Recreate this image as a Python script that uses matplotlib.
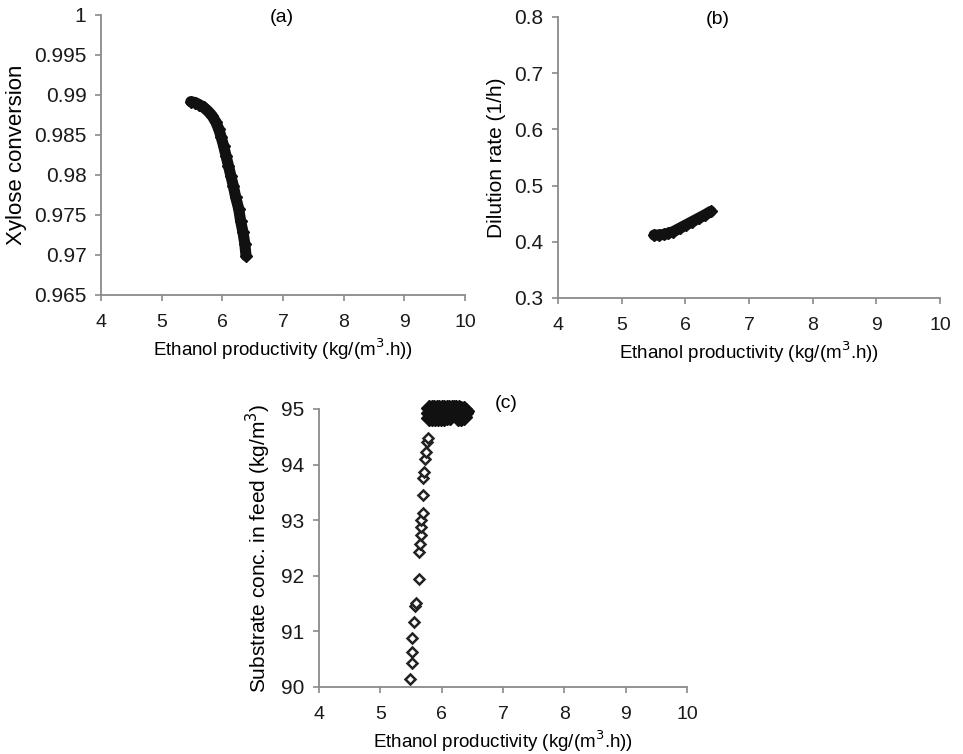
import matplotlib.pyplot as plt

plt.rcParams['font.family'] = ['Liberation Sans', 'DejaVu Sans']

# (a) ethanol productivity vs xylose conversion
prod_a = [5.48, 5.55, 5.62, 5.69, 5.76, 5.83, 5.89, 5.94, 5.98, 6.02, 6.06,
          6.10, 6.14, 6.18, 6.22, 6.27, 6.30, 6.34, 6.37, 6.39]
conv_a = [0.98916, 0.98905, 0.98878, 0.98846, 0.98800, 0.98741, 0.98665,
          0.98575, 0.98475, 0.98366, 0.98240, 0.98116, 0.97990, 0.97866,
          0.97720, 0.97575, 0.97430, 0.97284, 0.97140, 0.96991]

# (b) ethanol productivity vs dilution rate
prod_b = [5.51, 5.58, 5.66, 5.73, 5.81, 5.91, 6.01, 6.11, 6.21, 6.31, 6.40]
dil_b = [0.412, 0.412, 0.413, 0.415, 0.418, 0.424, 0.430, 0.436, 0.442,
         0.448, 0.454]

# (c) ethanol productivity vs substrate concentration in feed
prod_c_open = [5.48, 5.51, 5.52, 5.52, 5.55, 5.56, 5.58, 5.63, 5.63, 5.65,
               5.66, 5.67, 5.67, 5.69, 5.70, 5.70, 5.71, 5.72, 5.74, 5.76,
               5.77]
feed_c_open = [90.14, 90.43, 90.62, 90.88, 91.17, 91.46, 91.51, 91.95,
               92.43, 92.58, 92.73, 92.88, 93.00, 93.13, 93.45, 93.75,
               93.87, 94.10, 94.23, 94.41, 94.47]
prod_c_fill = [5.80, 5.84, 5.88, 5.92, 5.96, 6.00, 6.04, 6.08, 6.12, 6.16,
               6.20, 6.24, 6.28, 6.32, 6.36, 6.40,
               5.79, 5.82, 5.86, 5.90, 5.94, 5.98, 6.02, 6.06, 6.10, 6.14,
               6.18, 6.22, 6.26, 6.30, 6.34, 6.38,
               5.79, 5.84, 5.89, 5.94, 5.99, 6.04, 6.09, 6.14, 6.27, 6.32,
               6.36]
feed_c_fill = [95.01, 95.02, 95.01, 95.02, 95.01, 95.02, 95.01, 95.02,
               95.01, 95.02, 95.01, 95.02, 95.01, 95.00, 95.00, 94.97,
               94.93, 94.92, 94.93, 94.92, 94.93, 94.92, 94.93, 94.92,
               94.93, 94.92, 94.92, 94.91, 94.90, 94.91, 94.92, 94.93,
               94.84, 94.83, 94.84, 94.83, 94.84, 94.84, 94.85, 94.86,
               94.84, 94.83, 94.85]

xticks = [4, 5, 6, 7, 8, 9, 10]
xlab = 'Ethanol productivity (kg/(m$^3$.h))'
spine_col = '#8a8a8a'
ink = '#111111'


def style(ax):
    for s in ['top', 'right']:
        ax.spines[s].set_visible(False)
    for s in ['left', 'bottom']:
        ax.spines[s].set_color(spine_col)
        ax.spines[s].set_linewidth(1.3)
    ax.tick_params(direction='out', length=4, width=1.2, color=spine_col,
                   labelcolor='#1a1a1a')
    ax.tick_params(axis='x', labelsize=14, pad=10)
    ax.tick_params(axis='y', labelsize=15, pad=6.5)
    ax.set_xlim(4, 10)
    ax.set_xticks(xticks)
    ax.set_xticklabels([str(t) for t in xticks])
    ax.set_xlabel(xlab, fontsize=13.5, labelpad=4)


fig = plt.figure(figsize=(9.63, 7.54), dpi=100)

ax_a = fig.add_axes([0.1049, 0.6088, 0.378, 0.3714])
style(ax_a)
ax_a.plot(prod_a, conv_a, color=ink, lw=8, solid_capstyle='round')
ax_a.plot(prod_a, conv_a, 'D', ms=6.5, color=ink)
ax_a.set_ylim(0.965, 1.0)
yt_a = [0.965, 0.97, 0.975, 0.98, 0.985, 0.99, 0.995, 1.0]
ax_a.set_yticks(yt_a)
ax_a.set_yticklabels(['0.965', '0.97', '0.975', '0.98', '0.985', '0.99',
                      '0.995', '1'])
ax_a.set_ylabel('Xylose conversion', fontsize=16, labelpad=5)
ax_a.text(0.497, 0.99, '(a)', transform=ax_a.transAxes, fontsize=14,
          ha='center', va='center')

ax_b = fig.add_axes([0.5794, 0.6048, 0.3967, 0.3727])
style(ax_b)
ax_b.plot(prod_b, dil_b, color=ink, lw=8, solid_capstyle='round')
ax_b.plot(prod_b, dil_b, 'D', ms=6.5, color=ink)
ax_b.set_ylim(0.3, 0.8)
yt_b = [0.3, 0.4, 0.5, 0.6, 0.7, 0.8]
ax_b.set_yticks(yt_b)
ax_b.set_yticklabels([str(v) for v in yt_b])
ax_b.set_ylabel('Dilution rate (1/h)', fontsize=15, labelpad=6)
ax_b.text(0.419, 0.99, '(b)', transform=ax_b.transAxes, fontsize=14,
          ha='center', va='center')

ax_c = fig.add_axes([0.3313, 0.0889, 0.3821, 0.3687])
style(ax_c)
ax_c.plot(prod_c_open, feed_c_open, 'D', ms=5.3, mfc='white', mec='#222222',
          mew=1.8, ls='none', clip_on=False)
ax_c.plot(prod_c_fill, feed_c_fill, 'D', ms=8.5, color=ink, ls='none',
          clip_on=False)
ax_c.set_ylim(90, 95)
yt_c = [90, 91, 92, 93, 94, 95]
ax_c.set_yticks(yt_c)
ax_c.set_yticklabels([str(v) for v in yt_c])
ax_c.set_ylabel('Substrate conc. in feed (kg/m$^3$)', fontsize=15,
                labelpad=6)
ax_c.text(0.508, 1.02, '(c)', transform=ax_c.transAxes, fontsize=14,
          ha='center', va='center')

fig.savefig('out.png', dpi=100)
